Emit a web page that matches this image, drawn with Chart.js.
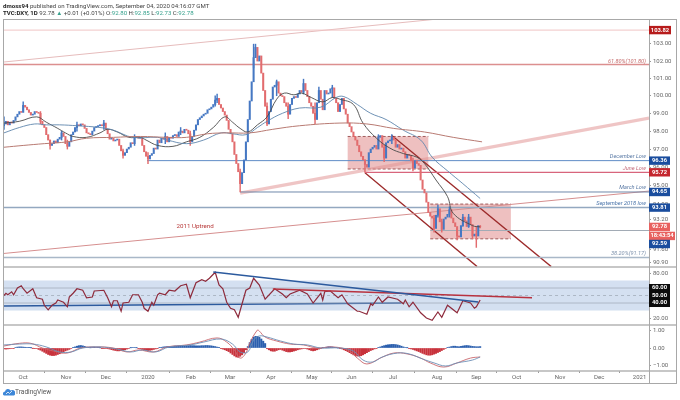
<!DOCTYPE html>
<html>
<head>
<meta charset="utf-8">
<title>DXY</title>
<script src="https://cdn.jsdelivr.net/npm/chart.js@4"></script>
<style>
    body { margin: 0; background: #fff; font-family: Roboto, sans-serif; }
    #wrap { position: relative; width: 680px; height: 400px; overflow: hidden; filter: blur(0.3px); }
    canvas { position: absolute; left: 0; top: 0; }
    .txt { position: absolute; left: 3px; font-size: 6.1px; line-height: 8px; color: #444; white-space: nowrap; }
    .txt b { color: #222; }
    .g { color: #35a08c; }
    #logo { position: absolute; left: 3px; top: 388px; }
    #brand { position: absolute; left: 15px; top: 388px; font-size: 6.6px; line-height: 8px; color: #555; }
</style>
</head>
<body>
<div id="wrap">
    <canvas id="dxyChart" width="680" height="400"></canvas>
    <div class="txt" style="top:2px"><b>dmoss94</b> published on TradingView.com, September 04, 2020 04:16:07 GMT</div>
    <div class="txt" style="top:9px"><b>TVC:DXY, 1D</b> 92.78 <span class="g">▲</span> +0.01 (+0.01%) O:<span class="g">92.80</span> H:<span class="g">92.85</span> L:<span class="g">92.73</span> C:<span class="g">92.78</span></div>
    <svg id="logo" width="12" height="8" viewBox="0 0 12 8"><path d="M1 7.5 A2.2 2.2 0 0 1 2 3.4 A3 3 0 0 1 7.6 2.6 A2.4 2.4 0 0 1 11 7.5 Z" fill="#3d87d8"/><path d="M3 6 L5 4 L6.5 5.5 L9 3" stroke="#fff" stroke-width="0.8" fill="none"/></svg>
    <div id="brand">TradingView</div>
</div>
<script>
// Daily candles, one entry per trading day
const closes = [
    98.4,98.55,98.35,98.5,98.45,98.6,98.8,98.95,99.1,99.05,
    99.45,99.35,99.2,99.05,98.9,98.95,99.1,99.05,99.0,98.55,
    98.35,98.2,97.8,97.5,97.2,97.3,97.45,97.35,97.55,97.65,
    97.9,97.7,97.3,97.15,97.4,97.8,97.95,98.2,98.35,98.3,
    98.4,98.35,98.15,97.9,97.85,97.8,98.0,98.2,98.25,98.3,
    98.35,98.3,98.45,98.1,97.85,97.55,97.6,97.45,97.5,97.55,
    97.2,96.9,96.65,96.8,97.0,97.1,97.35,97.3,97.65,97.7,
    97.6,97.65,97.2,96.85,96.6,96.45,96.65,96.75,97.05,97.0,
    97.5,97.35,97.6,97.55,97.7,97.4,97.65,97.6,97.75,97.8,
    97.7,97.95,98.0,97.9,98.1,98.05,97.85,97.4,97.7,98.05,
    98.35,98.65,98.75,98.85,98.95,99.0,99.2,99.25,99.35,99.5,
    99.75,99.85,99.5,99.3,99.1,98.9,98.6,98.1,97.85,97.4,
    96.7,96.2,95.75,95.1,95.7,96.4,97.4,98.65,99.7,100.8,
    102.2,102.8,102.0,102.3,101.3,100.3,99.4,98.4,99.1,99.8,
    100.5,100.6,100.8,100.15,100.0,99.95,99.6,99.4,98.95,99.5,
    99.85,99.95,99.9,100.1,100.3,100.2,100.7,100.3,99.95,99.6,
    99.4,99.0,98.65,99.6,100.3,99.8,99.2,100.3,100.1,100.15,
    100.4,100.45,99.85,99.6,99.1,99.5,99.85,99.25,98.95,98.45,
    98.25,97.95,97.7,97.5,97.2,96.85,96.6,96.4,96.15,96.0,
    96.8,97.0,97.1,97.2,97.0,97.65,97.75,97.1,96.5,97.35,
    97.45,97.5,97.65,97.5,97.1,97.25,97.0,97.05,96.85,96.5,
    96.7,96.65,96.35,95.95,96.35,96.2,96.1,95.3,94.8,94.6,
    94.1,93.55,93.35,93.25,92.7,93.4,93.75,93.05,92.65,93.2,
    93.3,93.45,93.7,93.25,93.0,92.8,92.3,92.25,92.85,93.3,
    93.1,92.8,93.3,92.9,92.3,92.4,92.3,92.85,92.78
];
const opens = [
    98.3,98.4,98.55,98.35,98.5,98.45,98.6,98.8,98.95,99.1,
    99.05,99.45,99.35,99.2,99.05,98.9,98.95,99.1,99.05,99.0,
    98.55,98.35,98.2,97.8,97.5,97.2,97.3,97.45,97.35,97.55,
    97.65,97.9,97.7,97.3,97.15,97.4,97.8,97.95,98.2,98.35,
    98.3,98.4,98.35,98.15,97.9,97.85,97.8,98.0,98.2,98.25,
    98.3,98.35,98.3,98.45,98.1,97.85,97.55,97.6,97.45,97.5,
    97.55,97.2,96.9,96.65,96.8,97.0,97.1,97.35,97.3,97.65,
    97.7,97.6,97.65,97.2,96.85,96.6,96.45,96.65,96.75,97.05,
    97.0,97.5,97.35,97.6,97.55,97.7,97.4,97.65,97.6,97.75,
    97.8,97.7,97.95,98.0,97.9,98.1,98.05,97.85,97.4,97.7,
    98.05,98.35,98.65,98.75,98.85,98.95,99.0,99.2,99.25,99.35,
    99.5,99.75,99.85,99.5,99.3,99.1,98.9,98.6,98.1,97.85,
    97.4,96.7,96.2,95.75,95.1,95.7,96.4,97.4,98.65,99.7,
    100.8,102.2,102.8,102.0,102.3,101.3,100.3,99.4,98.4,99.1,
    99.8,100.5,100.6,100.8,100.15,100.0,99.95,99.6,99.4,98.95,
    99.5,99.85,99.95,99.9,100.1,100.3,100.2,100.7,100.3,99.95,
    99.6,99.4,99.0,98.65,99.6,100.3,99.8,99.2,100.3,100.1,
    100.15,100.4,100.45,99.85,99.6,99.1,99.5,99.85,99.25,98.95,
    98.45,98.25,97.95,97.7,97.5,97.2,96.85,96.6,96.4,96.15,
    96.0,96.8,97.0,97.1,97.2,97.0,97.65,97.75,97.1,96.5,
    97.35,97.45,97.5,97.65,97.5,97.1,97.25,97.0,97.05,96.85,
    96.5,96.7,96.65,96.35,95.95,96.35,96.2,96.1,95.3,94.8,
    94.6,94.1,93.55,93.35,93.25,92.7,93.4,93.75,93.05,92.65,
    93.2,93.3,93.45,93.7,93.25,93.0,92.8,92.3,92.25,92.85,
    93.3,93.1,92.8,93.3,92.9,92.3,92.4,92.3,92.8
];

// Wicks that stick out of the bodies
const wickBars =  [0,10,19,24,30,33,38,52,62,68,75,84,92,97,110,111,123,130,131,137,142,148,156,162,164,171,188,195,198,202,213,224,226,228,232,236,239,242,244,246,248];
const wickHighs = [98.8,99.65,99.1,97.5,98.0,97.5,98.5,98.6,97.0,97.8,96.8,97.9,98.2,98.0,100.0,100.1,95.9,102.99,102.99,99.6,100.9,99.6,100.95,99.6,100.5,100.6,96.4,97.8,97.2,97.8,96.5,93.4,93.95,93.2,93.85,92.7,93.45,93.45,92.9,92.8,92.85];
const wickLows =  [98.1,99.1,98.4,97.0,97.5,97.0,98.0,98.1,96.5,97.2,96.2,97.3,97.8,97.2,99.4,99.6,94.65,101.6,102.2,98.3,100.0,98.7,100.1,98.4,99.6,99.9,95.72,97.2,96.3,97.3,95.8,92.5,93.3,92.5,93.3,92.1,92.8,92.75,92.15,91.7,92.73];

// Moving averages
const maBlackBars = [0,8,17,22,28,32,36,43,50,54,59,65,71,74,80,88,95,102,109,115,119,123,127,132,137,142,146,151,155,160,166,171,175,182,187,194,201,208,215,219,225,231,234,244,248];
const maBlack = [98.45,98.55,98.8,98.5,98.15,97.9,97.7,97.65,97.9,98.1,97.95,97.65,97.65,97.5,97.2,97.15,97.4,97.65,98.2,98.8,98.5,98.15,97.95,98.35,98.8,99.8,100.15,100.05,100.15,99.9,99.65,99.9,99.8,99.5,98.45,97.6,97.05,96.75,96.55,96.2,95.3,94.4,93.5,92.85,92.78];
const maBlueBars = [0,8,16,22,29,38,50,57,67,80,85,95,104,113,119,126,132,137,145,154,165,173,177,184,191,199,208,217,223,231,239,248];
const maBlue = [97.9,98.2,98.4,98.35,98.35,98.3,98.2,98.05,97.65,97.65,97.5,97.3,97.5,97.9,97.85,97.8,98.2,98.55,99.0,99.3,99.35,99.9,99.95,99.5,99.0,98.65,98.05,97.5,96.55,95.8,95.1,94.3];
const maRedBars = [0,10,21,33,43,57,71,85,95,106,116,128,140,154,175,189,203,219,234,249];
const maRed = [97.1,97.2,97.3,97.4,97.6,97.65,97.7,97.65,97.65,97.85,97.9,97.9,98.1,98.3,98.45,98.4,98.15,97.95,97.65,97.4];

// RSI pane
const rsiBars = [0,1,2,4,5,7,9,10,12,15,17,20,21,23,25,27,28,31,33,34,36,38,41,43,46,47,52,54,56,57,59,61,62,65,67,70,72,73,75,77,78,80,81,84,86,89,92,95,97,100,103,105,107,110,112,114,116,118,120,122,124,126,128,130,133,136,141,145,147,149,154,158,161,165,166,167,170,174,176,179,184,185,189,191,192,195,197,200,205,208,209,211,213,217,220,223,226,228,231,236,239,243,245,246,248];
const rsiValues = [50,53,51,55,51,60,63,59,53,59,47,45,37,31,37,40,44,41,35,48,53,59,57,47,48,56,57,47,35,43,43,29,40,41,51,51,41,33,29,41,37,51,53,51,57,56,63,65,47,67,71,69,73,81,64,59,41,33,31,21,39,57,60,73,64,45,59,52,47,52,57,52,40,53,44,55,56,47,51,39,29,29,25,39,37,48,41,48,45,39,44,35,41,27,20,17,28,21,37,27,43,40,33,35,44];

// MACD pane
const macdBars = [0,8,14,20,28,33,40,48,57,64,70,78,85,95,102,111,116,120,123,126,128,132,133,136,142,149,156,163,171,179,184,189,196,203,210,217,222,229,236,243,248];
const macdValues = [0.11,0.26,0.26,0,-0.22,-0.28,0,0.06,0,-0.22,-0.11,-0.22,0.06,0.17,0.33,0.56,0.33,-0.11,-0.56,-0.28,0.28,1.0,0.94,0.61,0.39,0.22,0.17,0,0.06,-0.11,-0.56,-0.89,-0.56,-0.28,-0.33,-0.56,-0.83,-1.06,-0.83,-0.56,-0.5];
const signalBars = [0,8,15,22,29,35,41,50,59,66,72,79,86,97,104,113,119,123,127,130,133,137,144,151,158,165,175,182,187,192,197,205,211,218,224,230,236,244,248];
const signalValues = [0.17,0.22,0.22,0.06,-0.22,-0.22,0,0.06,-0.06,-0.22,-0.11,-0.22,0.06,0.17,0.33,0.5,0.22,-0.22,-0.22,0.44,0.67,0.61,0.39,0.22,0.17,0,0,-0.17,-0.67,-0.78,-0.5,-0.28,-0.33,-0.61,-0.83,-1.0,-0.83,-0.67,-0.5];
const histValues = [
    -0.05,-0.06,-0.05,-0.04,-0.03,-0.02,
    0.03,0.05,0.06,0.06,0.05,0.04,0.03,0.02,
    0.01,-0.01,-0.02,-0.03,
    -0.08,-0.12,-0.18,-0.24,-0.3,-0.36,-0.4,-0.42,-0.42,-0.4,-0.36,-0.32,-0.28,-0.22,-0.16,-0.12,-0.08,
    -0.03,0.02,0.06,0.1,0.13,0.14,0.12,0.09,0.05,0.02,
    0.01,0.03,0.04,0.03,0.02,0.01,-0.01,-0.02,-0.03,-0.04,-0.06,
    -0.09,-0.12,-0.14,-0.16,-0.16,-0.15,-0.13,-0.1,-0.06,-0.03,
    0.01,0.03,0.03,0.01,-0.02,-0.05,
    -0.08,-0.11,-0.13,-0.14,-0.13,-0.11,-0.08,-0.05,-0.02,
    0.02,0.04,0.06,0.07,0.08,0.08,0.09,0.09,0.1,0.1,0.11,0.11,0.12,0.12,0.13,0.13,0.14,0.13,0.13,0.12,0.12,0.12,0.13,0.13,0.14,0.14,0.13,0.12,0.1,0.08,
    0.05,0.02,-0.02,-0.06,-0.1,-0.15,
    -0.2,-0.28,-0.36,-0.44,-0.5,-0.52,-0.46,-0.38,-0.26,
    -0.1,0.08,0.3,0.48,0.6,0.65,0.65,0.6,0.5,0.38,0.25,
    -0.04,-0.1,-0.16,-0.18,-0.18,-0.14,-0.1,-0.08,-0.12,-0.16,-0.2,-0.22,-0.22,-0.2,-0.17,-0.14,-0.1,-0.07,-0.05,-0.03,-0.03,
    -0.06,-0.1,-0.14,-0.16,-0.14,-0.1,-0.06,-0.02,0.01,0.03,0.05,
    0.07,0.07,0.06,0.04,0.02,0,-0.02,
    -0.05,-0.1,-0.15,-0.2,-0.26,-0.32,-0.38,-0.42,-0.45,-0.45,-0.43,-0.38,-0.32,-0.26,-0.2,-0.14,-0.1,-0.05,-0.02,0.02,
    0.06,0.1,0.13,0.16,0.18,0.19,0.2,0.2,0.19,0.17,0.14,0.1,0.06,0.03,0.01,
    -0.02,-0.05,-0.08,-0.12,-0.16,-0.2,-0.25,-0.3,-0.34,-0.38,-0.4,-0.4,-0.38,-0.34,-0.3,-0.25,-0.2,-0.14,-0.08,-0.03,
    0.02,0.05,0.08,0.1,0.1,0.08,0.07,0.09,0.11,0.13,0.14,0.13,0.11,0.09,0.08,0.07,0.07,0.08
];

// Axis ticks
const monthBars = [10,32.3,53,75,97.4,117.7,139,160.4,181,202.6,225.5,246,267,289.6,310,331];
const monthLabels = ['Oct','Nov','Dec','2020','Feb','Mar','Apr','May','Jun','Jul','Aug','Sep','Oct','Nov','Dec','2021'];
const priceTicks = [103,102,101,100,99,98,97,96,95,94,93.2,91.6,90.9];
const rsiTicks = [80,60,50,40,20];
const macdTicks = [1,0,-1];

const UP = 'rgb(70,120,195)';
const DOWN = 'rgb(226,108,110)';

function line(xs, ys, axis, color, width, extra) {
    return Object.assign({
        type: 'line',
        data: xs.map((x, i) => ({ x: x, y: ys[i] })),
        yAxisID: axis,
        borderColor: color,
        borderWidth: width,
        pointRadius: 0,
        order: 3
    }, extra || {});
}

// Levels and drawn trend lines, first bar to last bar of each
const drawings = [
    line([-0.5,336], [103.82,103.82], 'price', '#f0c4c4', 1),
    line([-0.5,226], [101.94,104.48], 'price', '#e6bcbc', 1),
    line([-0.5,336], [101.8,101.8], 'price', '#dc8f8f', 1.6),
    line([74.5,336], [96.36,96.36], 'price', '#5f8cc6', 1),
    line([188,336], [95.72,95.72], 'price', '#d8657c', 1.2),
    line([123,336], [94.65,94.65], 'price', '#7089aa', 1),
    line([-0.5,336], [93.81,93.81], 'price', '#93a8c0', 1.5),
    line([222,336], [92.59,92.59], 'price', '#a2abb5', 1),
    line([-0.5,336], [91.17,91.17], 'price', '#a9b8c8', 1.5),
    line([123,336], [94.59,98.73], 'price', 'rgba(226,150,150,0.55)', 3.4),
    line([-0.5,336], [91.38,94.7], 'price', '#d68f8f', 1),
    line([188,246.4], [95.7,90.7], 'price', '#9c2a2a', 1.3),
    line([202,285], [97.75,90.7], 'price', '#9c2a2a', 1.3),
    line([-0.5,336], [60,60], 'rsi', '#a3adbb', 0.8),
    line([-0.5,336], [50,50], 'rsi', '#a3adbb', 0.8, { borderDash: [3, 3] }),
    line([-0.5,336], [40,40], 'rsi', '#a3adbb', 0.8),
    line([-0.5,207], [36,40], 'rsi', '#2c5a9e', 1.5),
    line([109,247], [81.3,41.3], 'rsi', '#2c5a9e', 1.4, { order: 1 }),
    line([140,275], [58.7,47], 'rsi', '#b8323f', 1.4, { order: 1 })
];

// Shaded ranges: first bar, last bar, top value, bottom value
const boxBars = [[179, 221], [222, 264]];
const boxPrices = [[97.7, 95.9], [94, 92.15]];

// Price tags on the right axis
const tagValues = [103.82,96.36,95.72,94.65,93.81,92.78,92.78,92.59];
const tagTexts = ['103.82','96.36','95.72','94.65','93.81','92.78','18:43:54','92.59'];
const tagColors = ['#b71c1c','#1a4d9e','#c4262e','#1a4d9e','#1a4d9e','#e8615f','#e8615f','#1a4d9e'];
const tagShift = [0,0,0,0,0,0,9,13.5];
const tagWidth = [22,21,21,21,21,21,26,21];

// Notes written on the chart
const notePrices = [101.97,96.58,95.94,94.88,94.03,91.39];
const noteTexts = ['61.80%(101.80)','December Low','June Low','March Low','September 2018 low','38.20%(91.17)'];
const noteColors = ['#c46a6a','#5a7aa5','#c46a7a','#5a7aa5','#4a74aa','#7f93ad'];

const overlayPlugin = {
    id: 'overlay',
    beforeDatasetsDraw(chart) {
        const c = chart.ctx, x = chart.scales.x, p = chart.scales.price, r = chart.scales.rsi;
        // RSI band
        c.fillStyle = 'rgba(176,198,230,0.55)';
        c.fillRect(x.left, r.getPixelForValue(70), x.width, r.getPixelForValue(30) - r.getPixelForValue(70));
        // shaded boxes with dashed edges
        boxBars.forEach((b, i) => {
            const l = x.getPixelForValue(b[0]), w = x.getPixelForValue(b[1]) - l;
            const t = p.getPixelForValue(boxPrices[i][0]), h = p.getPixelForValue(boxPrices[i][1]) - t;
            c.fillStyle = 'rgba(222,130,130,0.5)';
            c.fillRect(l, t, w, h);
            c.strokeStyle = '#8a3a3a';
            c.lineWidth = 0.8;
            c.setLineDash([3, 2]);
            c.beginPath();
            c.moveTo(l, t); c.lineTo(l + w, t);
            c.moveTo(l, t + h); c.lineTo(l + w, t + h);
            c.stroke();
            c.setLineDash([]);
        });
    },
    afterDraw(chart) {
        const c = chart.ctx, x = chart.scales.x, p = chart.scales.price, r = chart.scales.rsi, m = chart.scales.macd;
        // pane separators and frame
        c.strokeStyle = '#b4b4b4';
        c.lineWidth = 1.3;
        [p.bottom, r.bottom, m.bottom].forEach(y => {
            c.beginPath(); c.moveTo(x.left, y); c.lineTo(677, y); c.stroke();
        });
        c.lineWidth = 1;
        c.strokeStyle = '#a8a8a8';
        c.strokeRect(3.5, 19.5, 673, 364);
        c.beginPath(); c.moveTo(649.5, 19); c.lineTo(649.5, 384); c.stroke();
        // notes
        c.font = 'italic 5.6px Roboto';
        c.textAlign = 'right';
        c.textBaseline = 'middle';
        noteTexts.forEach((t, i) => {
            c.fillStyle = noteColors[i];
            c.fillText(t, 646, p.getPixelForValue(notePrices[i]));
        });
        c.font = '6.2px Roboto';
        c.textAlign = 'center';
        c.fillStyle = '#b83a3a';
        c.fillText('2011 Uptrend', x.getPixelForValue(99.5), p.getPixelForValue(92.8));
        // price tags
        c.font = 'bold 5.8px Roboto';
        tagValues.forEach((v, i) => {
            const y = p.getPixelForValue(v) + tagShift[i];
            c.fillStyle = tagColors[i];
            c.fillRect(649, y - 4.2, tagWidth[i], 8.4);
            c.fillStyle = '#fff';
            c.fillText(tagTexts[i], 649 + tagWidth[i] / 2, y);
        });
        // black RSI tags
        c.fillStyle = '#0c0c0c';
        const top = r.getPixelForValue(60) - 4, bottom = r.getPixelForValue(40) + 4;
        c.fillRect(649, top, 21, bottom - top);
        c.fillStyle = '#fff';
        [60, 50, 40].forEach(v => c.fillText(v.toFixed(2), 659.5, r.getPixelForValue(v)));
    }
};

function yAxis(size, order) {
    return {
        position: 'right',
        stack: 'panes',
        stackWeight: size,
        weight: order,
        border: { display: false },
        grid: { drawOnChartArea: false, color: '#999', tickLength: 2 },
        ticks: {
            color: '#666',
            font: { size: 6, family: 'Roboto' },
            padding: 2,
            autoSkip: false,
            maxRotation: 0,
            callback: v => (v < 0 ? '\u2212' + (-v).toFixed(2) : v.toFixed(2))
        },
        afterFit: s => { s.width = 31; }
    };
}

new Chart(document.getElementById('dxyChart').getContext('2d'), {
    data: {
        datasets: [
            ...drawings,
            line(maRedBars, maRed, 'price', '#b87a72', 1, { tension: 0.4, order: 2 }),
            line(maBlueBars, maBlue, 'price', '#5f86ad', 0.9, { tension: 0.4, order: 2 }),
            line(maBlackBars, maBlack, 'price', '#4a4a4a', 0.9, { tension: 0.4, order: 2 }),
            {
                type: 'bar',
                data: wickBars.map((b, i) => ({ x: b, y: [wickLows[i], wickHighs[i]] })),
                yAxisID: 'price',
                backgroundColor: wickBars.map(b => closes[b] >= opens[b] ? UP : DOWN),
                barThickness: 0.8,
                grouped: false,
                order: 2.5
            },
            {
                type: 'bar',
                data: closes.map((c, i) => ({ x: i, y: [opens[i], c] })),
                yAxisID: 'price',
                backgroundColor: closes.map((c, i) => c >= opens[i] ? UP : DOWN),
                barThickness: 1.4,
                minBarLength: 1,
                grouped: false,
                order: 2.5
            },
            line(rsiBars, rsiValues, 'rsi', '#8e2b3c', 1.2, { order: 1.5 }),
            {
                type: 'bar',
                data: histValues.map((v, i) => ({ x: i, y: v })),
                yAxisID: 'macd',
                backgroundColor: histValues.map(v => v >= 0 ? '#2b5fae' : '#c8323c'),
                barThickness: 1.4,
                grouped: false,
                order: 2
            },
            line(signalBars, signalValues, 'macd', '#6d8fb5', 0.9, { tension: 0.4, order: 1 }),
            line(macdBars, macdValues, 'macd', '#c9666c', 0.9, { tension: 0.4, order: 1 })
        ]
    },
    options: {
        responsive: false,
        animation: false,
        layout: { padding: { left: 3, top: 19, right: 0, bottom: 17 } },
        plugins: { legend: { display: false }, tooltip: { enabled: false } },
        scales: {
            x: {
                type: 'linear',
                offset: false,
                min: -0.52,
                max: 335.94,
                border: { display: false },
                grid: { drawOnChartArea: false, color: '#999', tickLength: 2 },
                afterBuildTicks: s => { s.ticks = monthBars.map(v => ({ value: v })); },
                afterFit: s => { s.height = 12; },
                ticks: {
                    color: '#666',
                    font: { size: 6, family: 'Roboto' },
                    padding: 1,
                    autoSkip: false,
                    maxRotation: 0,
                    callback: (v, i) => monthLabels[i]
                }
            },
            price: Object.assign(yAxis(248, 0), {
                type: 'logarithmic',
                min: 90.68,
                max: 104.48,
                afterBuildTicks: s => { s.ticks = priceTicks.map(v => ({ value: v })); }
            }),
            rsi: Object.assign(yAxis(58, 1), {
                type: 'linear',
                min: 10.7,
                max: 88,
                afterBuildTicks: s => { s.ticks = rsiTicks.map(v => ({ value: v })); }
            }),
            macd: Object.assign(yAxis(46, 2), {
                type: 'linear',
                min: -1.28,
                max: 1.28,
                afterBuildTicks: s => { s.ticks = macdTicks.map(v => ({ value: v })); }
            })
        }
    },
    plugins: [overlayPlugin]
});
</script>
</body>
</html>
